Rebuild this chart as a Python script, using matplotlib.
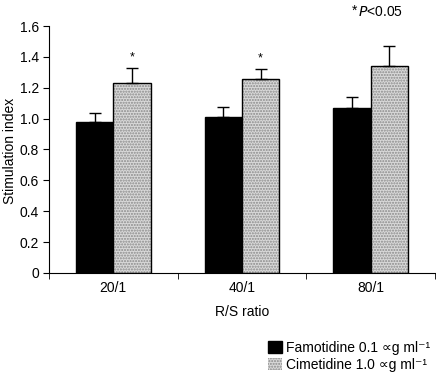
import matplotlib
matplotlib.use('Agg')
import matplotlib.pyplot as plt
import numpy as np
from matplotlib.patches import Patch

plt.rcParams['font.family'] = ['Liberation Sans', 'DejaVu Sans']

ratios = ['20/1', '40/1', '80/1']
famotidine = [0.98, 1.01, 1.07]
famotidine_err = [0.055, 0.067, 0.07]
cimetidine = [1.23, 1.255, 1.34]
cimetidine_err = [0.10, 0.065, 0.13]
significant = [True, True, False]

fig = plt.figure(figsize=(4.36, 3.78), dpi=100)
ax = fig.add_axes([0.112, 0.278, 0.886, 0.653])

x = np.arange(len(ratios))
w = 0.29

ax.bar(x - w / 2, famotidine, w, color='black', edgecolor='black', linewidth=1.0,
       yerr=[np.zeros(3), famotidine_err],
       error_kw=dict(ecolor='black', elinewidth=1.0, capsize=4, capthick=1.0))
# dotted fill then black outline
ax.bar(x + w / 2, cimetidine, w, color='#d9d9d9', edgecolor='#8a8a8a', hatch='......',
       linewidth=0)
ax.bar(x + w / 2, cimetidine, w, fill=False, edgecolor='black', linewidth=1.0,
       yerr=[np.zeros(3), cimetidine_err],
       error_kw=dict(ecolor='black', elinewidth=1.0, capsize=4, capthick=1.0))

for i, s in enumerate(significant):
    if s:
        ax.text(x[i] + w / 2, cimetidine[i] + cimetidine_err[i] + 0.03, '*',
                ha='center', va='bottom', fontsize=9)

fs = 10
ax.set_xlim(-0.5, 2.5)
ax.set_ylim(0, 1.6)
ax.set_yticks(np.arange(0, 1.61, 0.2))
ax.set_yticklabels(['0'] + ['%.1f' % v for v in np.arange(0.2, 1.61, 0.2)])
ax.set_xticks(x)
ax.set_xticklabels(ratios)
ax.set_xticks([-0.5, 0.5, 1.5, 2.5], minor=True)
ax.tick_params(axis='x', which='major', length=0, labelsize=fs, pad=6)
ax.tick_params(axis='x', which='minor', length=4, direction='out')
ax.tick_params(axis='y', length=4, direction='out', labelsize=fs, pad=3)
ax.spines['top'].set_visible(False)
ax.spines['right'].set_visible(False)
ax.set_xlabel('R/S ratio', fontsize=fs, labelpad=7)
fig.text(0.022, 0.60, 'Stimulation index', fontsize=fs, rotation=90,
         ha='center', va='center')

fig.text(0.82, 0.972, '*', fontsize=fs, ha='right', va='center')
fig.text(0.82, 0.968, r'$\it{P}$<0.05', fontsize=fs, ha='left', va='center')

handles = [Patch(facecolor='black', edgecolor='black'),
           Patch(facecolor='#d9d9d9', edgecolor='#8a8a8a', hatch='......', linewidth=0)]
fig.legend(handles, ['Famotidine 0.1 \u221dg ml\u207b\u00b9', 'Cimetidine 1.0 \u221dg ml\u207b\u00b9'],
           loc='lower left', bbox_to_anchor=(0.595, -0.005), frameon=False, fontsize=fs,
           handlelength=1.0, handleheight=1.0, handletextpad=0.3, labelspacing=0.2,
           borderaxespad=0.2)

fig.savefig('out.png', dpi=100)
